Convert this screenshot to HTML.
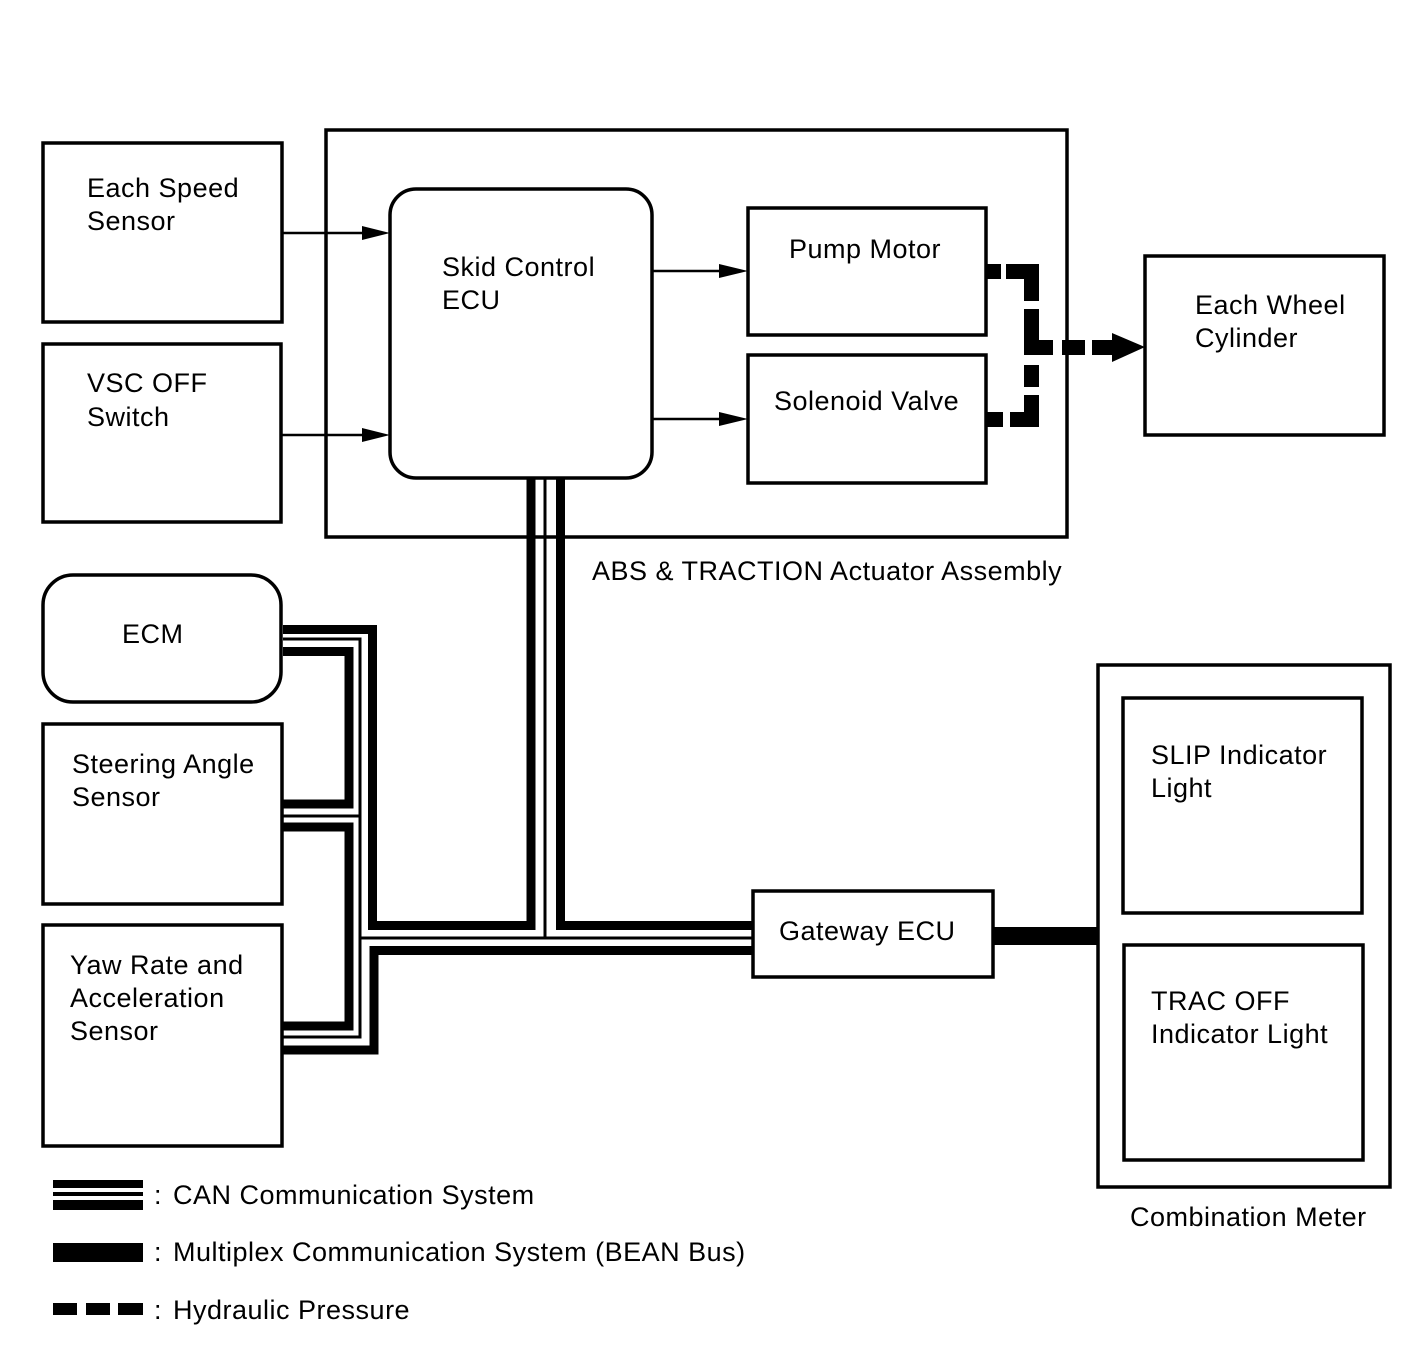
<!DOCTYPE html>
<html><head><meta charset="utf-8"><style>
html,body{margin:0;padding:0;background:#fff;}
svg{display:block;}
text{font-family:"Liberation Sans",Arial,sans-serif;font-size:27px;letter-spacing:0.5px;fill:#000;}
</style></head><body>
<svg width="1424" height="1361" viewBox="0 0 1424 1361" xmlns="http://www.w3.org/2000/svg">
<g fill="none" stroke="#000" stroke-width="3.5">
<rect x="43" y="143" width="239" height="179"/>
<rect x="43" y="344" width="238" height="178"/>
<rect x="326" y="130" width="741" height="407"/>
<rect x="390" y="189" width="262" height="289" rx="26"/>
<rect x="748" y="208" width="238" height="127"/>
<rect x="748" y="355" width="238" height="128"/>
<rect x="1145" y="256" width="239" height="179"/>
<rect x="43" y="575" width="238" height="127" rx="30"/>
<rect x="43" y="724" width="239" height="180"/>
<rect x="43" y="925" width="239" height="221"/>
<rect x="753" y="891" width="240" height="86"/>
<rect x="1098" y="665" width="292" height="522"/>
<rect x="1123" y="698" width="239" height="215"/>
<rect x="1124" y="945" width="239" height="215"/>
</g>
<g stroke="#000" stroke-width="2.5">
<line x1="282" y1="233" x2="365" y2="233"/>
<line x1="281" y1="435" x2="365" y2="435"/>
<line x1="652" y1="271" x2="722" y2="271"/>
<line x1="652" y1="419" x2="722" y2="419"/>
</g>
<g fill="#000">
<polygon points="362,226 390,233 362,240"/>
<polygon points="362,428 390,435 362,442"/>
<polygon points="719,264 748,271 719,278"/>
<polygon points="719,412 748,419 719,426"/>
</g>
<g fill="#000">
<rect x="987" y="264" width="14" height="15"/>
<rect x="1006" y="264" width="33" height="15"/>
<rect x="1024" y="279" width="15" height="22"/>
<rect x="1024" y="309" width="15" height="35"/>
<rect x="1024" y="340" width="29" height="15"/>
<rect x="1024" y="350" width="15" height="5"/>
<rect x="1024" y="365" width="15" height="22"/>
<rect x="1024" y="395" width="15" height="32"/>
<rect x="987" y="412" width="16" height="15"/>
<rect x="1010" y="412" width="29" height="15"/>
<rect x="1062" y="340" width="23" height="15"/>
<rect x="1092" y="340" width="23" height="15"/>
<polygon points="1112,333 1145,347 1112,362"/>
</g>
<g fill="none" stroke="#000" stroke-linejoin="miter">
<polyline stroke-width="9" points="283,629.5 372.5,629.5 372.5,925.5 531,925.5 531,478"/>
<polyline stroke-width="9" points="560.5,478 560.5,925.5 753,925.5"/>
<polyline stroke-width="9" points="283,651.5 349,651.5 349,804 283,804"/>
<polyline stroke-width="9" points="283,827 349,827 349,1026 283,1026"/>
<polyline stroke-width="9" points="283,1050 374,1050 374,950.5 753,950.5"/>
<polyline stroke-width="3" points="283,639 360,639 360,1037 283,1037"/>
<line stroke-width="3" x1="283" y1="816" x2="360" y2="816"/>
<line stroke-width="3" x1="360" y1="938" x2="753" y2="938"/>
<line stroke-width="3" x1="545" y1="478" x2="545" y2="938"/>
</g>
<rect x="993" y="927" width="105" height="18" fill="#000"/>
<g fill="#000">
<rect x="53" y="1180" width="90" height="8"/>
<rect x="53" y="1192" width="90" height="4"/>
<rect x="53" y="1200" width="90" height="10"/>
<rect x="53" y="1243" width="90" height="19"/>
<rect x="53" y="1303" width="24" height="12"/>
<rect x="86" y="1303" width="24" height="12"/>
<rect x="118" y="1303" width="25" height="12"/>
</g>
<text x="154" y="1204">:</text><text x="173" y="1204">CAN Communication System</text>
<text x="154" y="1261">:</text><text x="173" y="1261">Multiplex Communication System (BEAN Bus)</text>
<text x="154" y="1319">:</text><text x="173" y="1319">Hydraulic Pressure</text>
<text x="87" y="197">Each Speed</text><text x="87" y="230">Sensor</text>
<text x="87" y="392">VSC OFF</text><text x="87" y="426">Switch</text>
<text x="442" y="276">Skid Control</text><text x="442" y="309">ECU</text>
<text x="789" y="258">Pump Motor</text>
<text x="774" y="410">Solenoid Valve</text>
<text x="1195" y="314">Each Wheel</text><text x="1195" y="347">Cylinder</text>
<text x="592" y="580">ABS &amp; TRACTION Actuator Assembly</text>
<text x="122" y="643">ECM</text>
<text x="72" y="773">Steering Angle</text><text x="72" y="806">Sensor</text>
<text x="70" y="974">Yaw Rate and</text><text x="70" y="1007">Acceleration</text><text x="70" y="1040">Sensor</text>
<text x="779" y="940">Gateway ECU</text>
<text x="1151" y="764">SLIP Indicator</text><text x="1151" y="797">Light</text>
<text x="1151" y="1010">TRAC OFF</text><text x="1151" y="1043">Indicator Light</text>
<text x="1130" y="1226">Combination Meter</text>
</svg>
</body></html>
